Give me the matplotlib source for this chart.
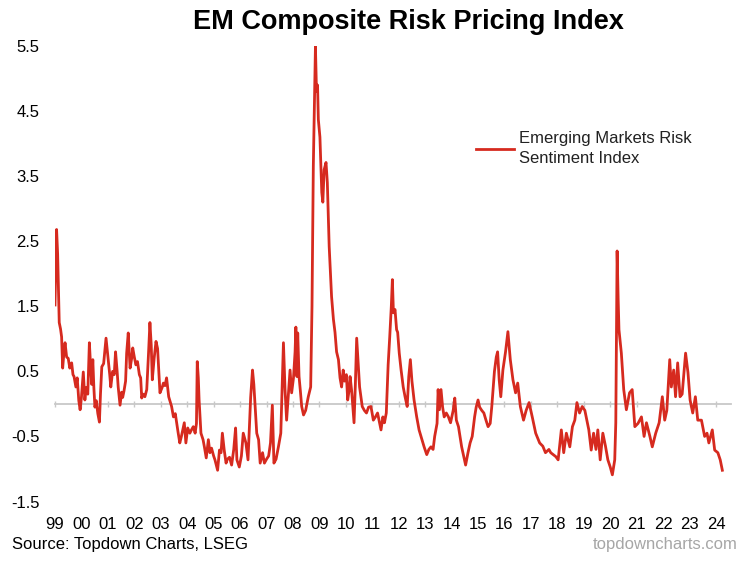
import numpy as np
import matplotlib
matplotlib.use("Agg")
import matplotlib.pyplot as plt

plt.rcParams['font.family'] = ['Liberation Sans', 'DejaVu Sans']

# Index values (decimal year, value)
dates = [
    1999.00, 1999.06, 1999.10, 1999.13, 1999.16, 1999.21, 1999.25, 1999.29, 1999.33, 1999.38,
    1999.44, 1999.50, 1999.56, 1999.63, 1999.68, 1999.72, 1999.79, 1999.84, 1999.90, 1999.95,
    2000.00, 2000.07, 2000.13, 2000.18, 2000.24, 2000.30, 2000.35, 2000.39, 2000.43, 2000.47,
    2000.51, 2000.56, 2000.62, 2000.68, 2000.72, 2000.77, 2000.84, 2000.93, 2001.02, 2001.07,
    2001.11, 2001.18, 2001.24, 2001.29, 2001.35, 2001.39, 2001.46, 2001.52, 2001.56, 2001.61,
    2001.67, 2001.71, 2001.77, 2001.84, 2001.90, 2001.94, 2002.00, 2002.06, 2002.12, 2002.19,
    2002.24, 2002.28, 2002.33, 2002.40, 2002.47, 2002.54, 2002.59, 2002.64, 2002.68, 2002.75,
    2002.82, 2002.88, 2002.97, 2003.05, 2003.10, 2003.16, 2003.22, 2003.30, 2003.41, 2003.48,
    2003.55, 2003.66, 2003.72, 2003.78, 2003.89, 2003.95, 2004.02, 2004.10, 2004.16, 2004.23,
    2004.30, 2004.35, 2004.38, 2004.42, 2004.45, 2004.52, 2004.60, 2004.65, 2004.72, 2004.80,
    2004.86, 2004.92, 2005.00, 2005.05, 2005.15, 2005.22, 2005.28, 2005.33, 2005.40, 2005.47,
    2005.52, 2005.60, 2005.68, 2005.76, 2005.83, 2005.88, 2005.97, 2006.05, 2006.12, 2006.22,
    2006.30, 2006.40, 2006.47, 2006.52, 2006.58, 2006.63, 2006.70, 2006.76, 2006.85, 2006.92,
    2007.00, 2007.08, 2007.15, 2007.22, 2007.28, 2007.36, 2007.45, 2007.54, 2007.60, 2007.64,
    2007.70, 2007.76, 2007.82, 2007.89, 2007.95, 2008.02, 2008.08, 2008.11, 2008.15, 2008.18,
    2008.23, 2008.28, 2008.33, 2008.40, 2008.48, 2008.58, 2008.67, 2008.72, 2008.77, 2008.81,
    2008.85, 2008.89, 2008.93, 2008.96, 2009.02, 2009.09, 2009.13, 2009.18, 2009.25, 2009.30,
    2009.37, 2009.46, 2009.53, 2009.59, 2009.65, 2009.72, 2009.78, 2009.84, 2009.90, 2009.95,
    2010.02, 2010.07, 2010.12, 2010.16, 2010.22, 2010.31, 2010.36, 2010.41, 2010.46, 2010.52,
    2010.62, 2010.70, 2010.78, 2010.86, 2010.95, 2011.04, 2011.12, 2011.20, 2011.28, 2011.33,
    2011.40, 2011.46, 2011.53, 2011.60, 2011.66, 2011.72, 2011.76, 2011.80, 2011.86, 2011.92,
    2011.96, 2012.02, 2012.09, 2012.17, 2012.24, 2012.32, 2012.38, 2012.44, 2012.50, 2012.58,
    2012.68, 2012.77, 2012.88, 2012.96, 2013.06, 2013.14, 2013.22, 2013.30, 2013.36, 2013.45,
    2013.49, 2013.54, 2013.60, 2013.66, 2013.72, 2013.80, 2013.88, 2013.96, 2014.06, 2014.12,
    2014.18, 2014.26, 2014.38, 2014.53, 2014.62, 2014.70, 2014.78, 2014.87, 2014.93, 2015.00,
    2015.06, 2015.14, 2015.22, 2015.30, 2015.38, 2015.46, 2015.52, 2015.62, 2015.69, 2015.74,
    2015.80, 2015.86, 2015.94, 2016.04, 2016.13, 2016.22, 2016.32, 2016.42, 2016.50, 2016.60,
    2016.72, 2016.82, 2016.93, 2017.05, 2017.18, 2017.33, 2017.45, 2017.55, 2017.68, 2017.75,
    2017.94, 2018.03, 2018.15, 2018.24, 2018.34, 2018.47, 2018.57, 2018.66, 2018.74, 2018.84,
    2018.94, 2019.04, 2019.19, 2019.28, 2019.37, 2019.46, 2019.53, 2019.62, 2019.72, 2019.82,
    2019.91, 2020.00, 2020.08, 2020.17, 2020.21, 2020.26, 2020.30, 2020.33, 2020.42, 2020.51,
    2020.61, 2020.73, 2020.83, 2020.93, 2021.05, 2021.18, 2021.28, 2021.37, 2021.50, 2021.59,
    2021.72, 2021.85, 2021.97, 2022.06, 2022.14, 2022.25, 2022.31, 2022.40, 2022.47, 2022.55,
    2022.64, 2022.72, 2022.85, 2022.94, 2023.02, 2023.12, 2023.22, 2023.31, 2023.45, 2023.57,
    2023.66, 2023.73, 2023.86, 2023.95, 2024.07, 2024.16, 2024.24,
]
values = [
    1.52, 2.68, 2.30, 1.80, 1.25, 1.15, 1.03, 0.55, 0.75, 0.94,
    0.72, 0.70, 0.55, 0.63, 0.45, 0.42, 0.26, 0.40, 0.05, -0.09,
    0.10, 0.49, 0.06, 0.25, 0.15, 0.94, 0.55, 0.30, 0.68, 0.25,
    -0.05, 0.05, -0.15, -0.28, 0.15, 0.57, 0.62, 1.01, 0.65, 0.45,
    0.26, 0.50, 0.45, 0.80, 0.50, 0.26, -0.02, 0.18, 0.10, 0.20,
    0.35, 0.78, 1.09, 0.55, 0.70, 0.86, 0.72, 0.60, 0.65, 0.45,
    0.40, 0.09, 0.15, 0.11, 0.22, 0.80, 1.25, 0.90, 0.37, 0.70,
    0.96, 0.85, 0.17, 0.25, 0.32, 0.28, 0.40, 0.11, -0.04, -0.20,
    -0.15, -0.45, -0.60, -0.50, -0.29, -0.60, -0.37, -0.45, -0.40, -0.35,
    -0.45, -0.30, 0.65, 0.40, 0.06, -0.45, -0.55, -0.66, -0.83, -0.55,
    -0.75, -0.68, -0.80, -0.86, -1.02, -0.71, -0.75, -0.45, -0.71, -0.91,
    -0.85, -0.82, -0.94, -0.70, -0.37, -0.86, -0.97, -0.80, -0.45, -0.60,
    -0.86, 0.10, 0.52, 0.30, -0.10, -0.45, -0.55, -0.91, -0.75, -0.91,
    -0.85, -0.80, -0.60, -0.02, -0.91, -0.85, -0.66, -0.45, 0.40, 0.94,
    0.22, -0.25, 0.10, 0.52, 0.17, 0.40, 0.80, 1.18, 0.42, 1.09,
    0.42, 0.20, -0.04, -0.17, -0.10, 0.11, 0.26, 1.50, 3.65, 4.60,
    5.49, 4.80, 4.90, 4.37, 4.10, 3.25, 3.10, 3.60, 3.71, 3.40,
    2.42, 1.65, 1.30, 1.10, 0.80, 0.68, 0.40, 0.26, 0.52, 0.35,
    0.45, 0.06, 0.20, 0.42, 0.20, -0.29, 0.30, 1.01, 0.68, 0.26,
    -0.04, -0.10, -0.14, -0.05, -0.04, -0.25, -0.20, -0.14, -0.30, -0.40,
    -0.20, -0.29, -0.14, 0.60, 1.03, 1.50, 1.91, 1.40, 1.45, 1.14,
    1.10, 0.78, 0.52, 0.26, 0.11, -0.04, 0.42, 0.68, 0.35, 0.06,
    -0.20, -0.40, -0.55, -0.66, -0.78, -0.70, -0.66, -0.70, -0.50, -0.30,
    0.22, -0.09, 0.22, -0.05, -0.20, -0.14, -0.20, -0.29, -0.10, 0.09,
    -0.25, -0.35, -0.66, -0.94, -0.75, -0.60, -0.50, -0.20, -0.05, 0.06,
    -0.05, -0.10, -0.14, -0.25, -0.35, -0.30, -0.04, 0.50, 0.72, 0.80,
    0.37, 0.11, 0.52, 0.80, 1.11, 0.68, 0.37, 0.17, 0.32, -0.04,
    -0.25, -0.10, 0.02, -0.20, -0.45, -0.60, -0.65, -0.75, -0.70, -0.75,
    -0.81, -0.86, -0.40, -0.75, -0.45, -0.66, -0.35, -0.25, 0.02, -0.14,
    -0.04, -0.10, -0.40, -0.71, -0.45, -0.70, -0.40, -0.86, -0.45, -0.65,
    -0.86, -0.97, -1.09, -0.86, -0.29, 2.35, 1.60, 1.14, 0.78, 0.22,
    -0.09, 0.17, 0.22, -0.35, -0.30, -0.20, -0.50, -0.29, -0.50, -0.66,
    -0.45, -0.29, 0.11, -0.25, -0.10, 0.68, 0.26, 0.52, 0.11, 0.63,
    0.11, 0.15, 0.78, 0.48, 0.06, -0.14, 0.11, -0.25, -0.25, -0.50,
    -0.45, -0.60, -0.40, -0.71, -0.75, -0.86, -1.02,
]

years = list(range(1999, 2025))
year_labels = [f"{y % 100:02d}" for y in years]
yticks = [-1.5, -0.5, 0.5, 1.5, 2.5, 3.5, 4.5, 5.5]

red = '#D62A1F'

fig = plt.figure(figsize=(7.46, 5.61), dpi=100)
ax = fig.add_axes([55 / 746, (561 - 501.5) / 561, 676 / 746, 455.5 / 561])

ax.plot(dates, values, color=red, lw=2.0, label="Emerging Markets Risk\nSentiment Index", zorder=3)

ax.set_xlim(1999, 1999 + 676 / 26.44)
ax.set_ylim(-1.5, 5.5)

# zero line with small year ticks, labels sit at the bottom
for s in ['top', 'right', 'left']:
    ax.spines[s].set_visible(False)
ax.spines['bottom'].set_position(('data', 0))
ax.spines['bottom'].set_color('#c8c8c8')
ax.spines['bottom'].set_linewidth(1.3)
ax.set_xticks(years)
ax.tick_params(axis='x', direction='inout', length=5, width=1, color='#c8c8c8', labelbottom=False)

sec = ax.secondary_xaxis('bottom')
sec.set_xticks(years)
sec.set_xticklabels(year_labels)
sec.tick_params(length=0, labelsize=12, pad=11)
sec.spines['bottom'].set_visible(False)

ax.set_yticks(yticks)
ax.set_yticklabels([f"{v:.1f}" for v in yticks])
ax.tick_params(axis='y', length=0, labelsize=12, pad=11)

fig.text(408 / 746, 1 - 22 / 561, "EM Composite Risk Pricing Index", ha='center', va='center',
         fontsize=19.5, fontweight='bold')

leg = ax.legend(loc='upper left', bbox_to_anchor=(406 / 676, 1 - 70 / 455.5), frameon=False,
                fontsize=12, handlelength=2.3, handletextpad=0.3)
for t in leg.get_texts():
    t.set_linespacing(1.45)
    t.set_color('#222222')

fig.text(12 / 746, 1 - 545 / 561, "Source: Topdown Charts, LSEG", ha='left', va='center', fontsize=12)
fig.text(738 / 746, 1 - 545 / 561, "topdowncharts.com", ha='right', va='center', fontsize=12, color='#a6a6a6')

fig.savefig("out.png", dpi=100)
